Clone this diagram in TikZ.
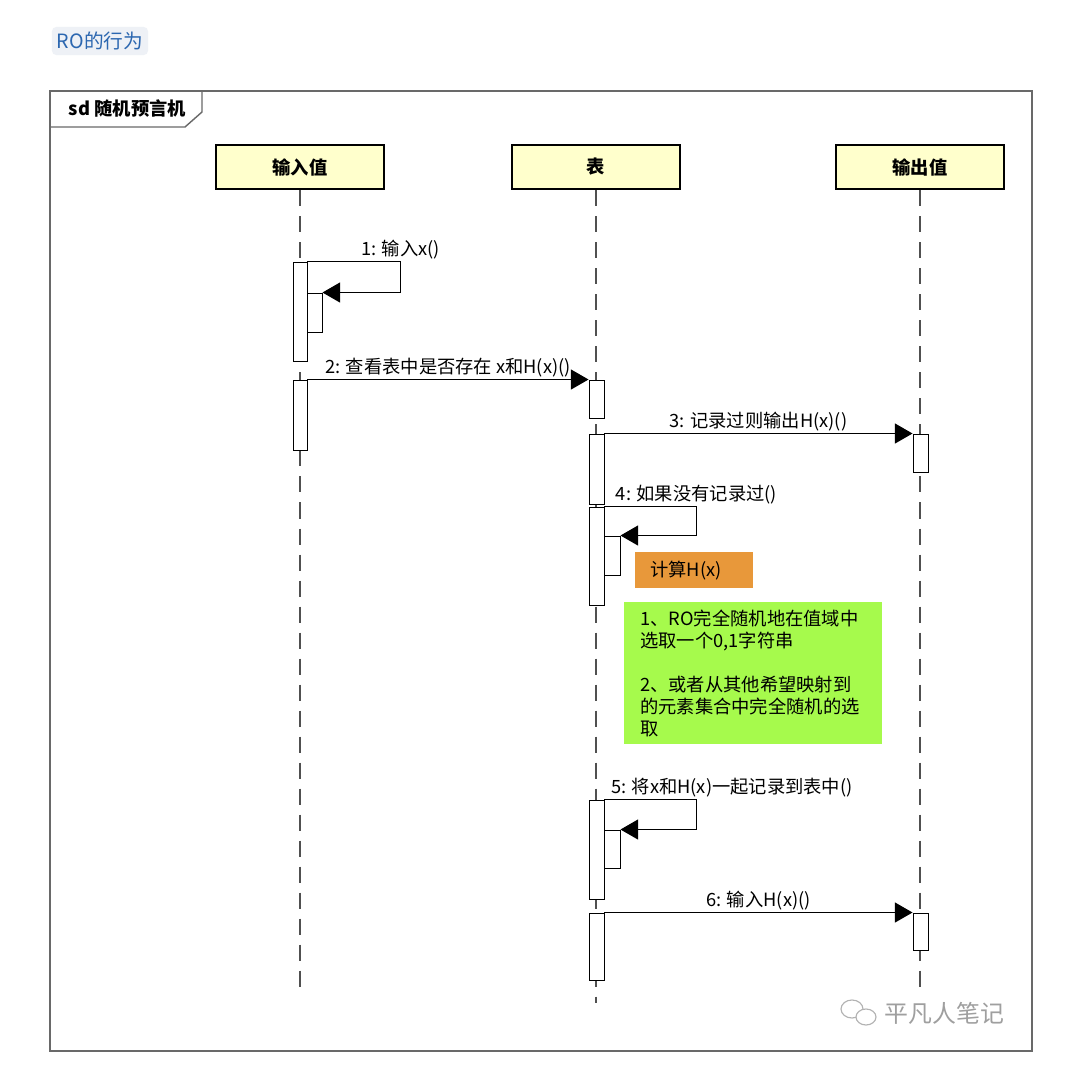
\documentclass[tikz,border=0pt]{standalone}
\usepackage{fontspec}
\setmainfont{Noto Sans CJK SC}
\usepackage{xcolor}
\usepackage{tikz}
\usetikzlibrary{arrows.meta,positioning,fit,calc}
\definecolor{headyellow}{RGB}{255,255,204}
\definecolor{notegreen}{RGB}{166,250,76}
\definecolor{noteorange}{RGB}{232,152,58}
\definecolor{titleblue}{RGB}{44,103,176}
\definecolor{titlebg}{RGB}{238,241,246}
\definecolor{framegray}{RGB}{105,105,105}
\definecolor{lifegray}{RGB}{80,80,80}

\begin{document}
\begin{tikzpicture}[x=0.025cm, y=-0.025cm,
  head/.style={draw, line width=2pt, fill=headyellow, minimum width=4.2cm, minimum height=1.1cm, font=\fontsize{13}{15}\selectfont\bfseries},
  life/.style={lifegray, line width=0.8pt, dash pattern=on 0.4cm off 0.25cm},
  act/.style={draw, fill=white, line width=0.7pt, inner sep=0pt},
  msg/.style={line width=0.8pt, -{Triangle[length=0.44cm, width=0.5cm]}},
  lbl/.style={font=\fontsize{13}{15}\selectfont, inner sep=1.5pt, above}]
\fill[white] (0,0) rectangle (1071,1073);
\useasboundingbox (0,0) rectangle (1071,1073);
\node[fill=titlebg, rounded corners=3pt, text=titleblue, minimum width=2.4cm, minimum height=0.7cm, font=\fontsize{14}{16}\selectfont] (ro) at (100,41) {RO的行为};
\draw[framegray, line width=1pt] (50,91) rectangle (1032,1051);
\draw[framegray, line width=1pt] (50,127) -- (185,127) -- (202,112) -- (202,91);
\node[font=\fontsize{13}{15}\selectfont\bfseries, anchor=west] (sd) at (64,109) {sd 随机预言机};
\node[head] (inp) at (300,167) {输入值};
\node[head] (tbl) at (596,167) {表};
\node[head] (outp) at (920,167) {输出值};
\coordinate (inpend) at (300,995);
\coordinate (tblend) at (596,1003);
\coordinate (outpend) at (920,993);
\draw[life] (inp.south) -- (inpend);
\draw[life] (tbl.south) -- (tblend);
\draw[life] (outp.south) -- (outpend);
\node[act, fit={(293,262) (307,361)}] (in1) {};
\node[act, fit={(307,293) (322,332)}] (in1s) {};
\node[act, fit={(293,380) (307,450)}] (in2) {};
\node[act, fit={(589,380) (604,418)}] (tb1) {};
\node[act, fit={(589,434) (604,504)}] (tb2) {};
\node[act, fit={(589,507) (604,605)}] (tb3) {};
\node[act, fit={(604,536) (620,575)}] (tb3s) {};
\node[act, fit={(589,800) (604,899)}] (tb4) {};
\node[act, fit={(604,830) (620,868)}] (tb4s) {};
\node[act, fit={(589,913) (604,980)}] (tb5) {};
\node[act, fit={(913,434) (928,472)}] (out1) {};
\node[act, fit={(913,913) (928,950)}] (out2) {};
\draw[msg] (in1.north east) -- ++(93,0) node[lbl, pos=1] {1: 输入x()} |- (in1s.north east);
\draw[msg] (in2.north east) -- (tb1.north west) node[lbl, midway] {2: 查看表中是否存在 x和H(x)()};
\draw[msg] (tb2.north east) -- (out1.north west) node[lbl, midway] {3: 记录过则输出H(x)()};
\draw[msg] (tb3.north east) -- ++(92,0) node[lbl, pos=1] {4: 如果没有记录过()} |- (tb3s.north east);
\draw[msg] (tb4.north east) -- ++(92,0) node[lbl, pos=0, anchor=south west, xshift=0.1cm] {5: 将x和H(x)一起记录到表中()} |- (tb4s.north east);
\draw[msg] (tb5.north east) -- (out2.north west) node[lbl, midway] {6: 输入H(x)()};
\node[fill=noteorange, anchor=north west, minimum width=2.95cm, minimum height=0.9cm, text width=2.2cm, inner xsep=0.375cm, align=left, font=\fontsize{13}{15}\selectfont] (calc) at (635,552) {计算H(x)};
\node[fill=notegreen, anchor=north west, minimum width=6.45cm, minimum height=3.55cm, text width=5.65cm, inner xsep=0.4cm, align=left, font=\fontsize{13}{15.6}\selectfont] (rnd) at (624,602) {1、RO完全随机地在值域中\\选取一个0,1字符串\\[15.6pt]2、或者从其他希望映射到\\的元素集合中完全随机的选\\取};
\draw[gray!60, line width=0.8pt] (852,1009) ellipse (11 and 9);
\draw[gray!60, line width=0.8pt, fill=white] (866,1017) ellipse (10 and 8);
\node[text=gray!75, font=\fontsize{17}{20}\selectfont, anchor=west] (wm) at (880,1013) {平凡人笔记};
\end{tikzpicture}
\end{document}
